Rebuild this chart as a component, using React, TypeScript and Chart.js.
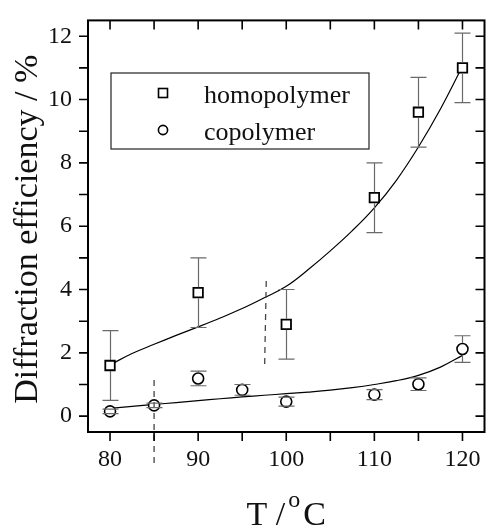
import React, { useEffect, useRef } from "react";
import { Chart, registerables } from "chart.js";

Chart.register(...registerables);

// ---- data ----
const homoT = [80, 90, 100, 110, 115, 120];
const homoEff = [1.6, 3.9, 2.9, 6.9, 9.6, 11.0];
const homoErr = [1.1, 1.1, 1.1, 1.1, 1.1, 1.1];

const copoT = [80, 85, 90, 95, 100, 110, 115, 120];
const copoEff = [0.15, 0.34, 1.19, 0.83, 0.46, 0.68, 1.01, 2.12];
const copoErr = [0.07, 0.07, 0.23, 0.17, 0.14, 0.16, 0.2, 0.42];

const fitT = [80, 82.5, 85, 87.5, 90, 92.5, 95, 97.5, 100, 102.5, 105, 107.5, 110, 112.5, 115, 117.5, 120];
const homoFit = [1.62, 1.98, 2.27, 2.55, 2.82, 3.1, 3.4, 3.74, 4.1, 4.63, 5.22, 5.86, 6.58, 7.45, 8.5, 9.7, 11.05];
const copoFit = [0.25, 0.31, 0.37, 0.43, 0.49, 0.55, 0.61, 0.66, 0.71, 0.76, 0.82, 0.9, 1.0, 1.12, 1.29, 1.55, 1.92];

const dash1X = [85, 85];
const dash1Y = [1.14, -1.49];
const dash2X = [97.73, 97.55];
const dash2Y = [4.27, 1.63];

const xTicks = [80, 85, 90, 95, 100, 105, 110, 115, 120];
const yTicks = [0, 1, 2, 3, 4, 5, 6, 7, 8, 9, 10, 11, 12];
const xTitle = ["T /", "o", "C"];
const yTitle = "Diffraction efficiency / %";
const legendLabels = ["homopolymer", "copolymer"];

const FONT = "'Liberation Serif', 'Times New Roman', serif";
const TEXT = "#111";

const pts = (xs: number[], ys: number[]) => xs.map((v, i) => ({ x: v, y: ys[i] }));

const framePlugin = {
  id: "frame",
  afterDatasetsDraw(chart: any) {
    const { ctx, scales } = chart;
    const x = scales.x, y = scales.y;
    ctx.save();
    ctx.strokeStyle = "#6a6a6a";
    ctx.lineWidth = 1.2;
    const draw = (xs: number[], ys: number[], es: number[], r: number) => {
      xs.forEach((xv, i) => {
        const px = Math.round(x.getPixelForValue(xv)) + 0.5;
        const pt = y.getPixelForValue(ys[i] + es[i]);
        const pb = y.getPixelForValue(ys[i] - es[i]);
        const pc = y.getPixelForValue(ys[i]);
        ctx.beginPath();
        if (pc - pt > r) { ctx.moveTo(px, pt); ctx.lineTo(px, pc - r); }
        if (pb - pc > r) { ctx.moveTo(px, pc + r); ctx.lineTo(px, pb); }
        ctx.moveTo(px - 8, pt); ctx.lineTo(px + 8, pt);
        ctx.moveTo(px - 8, pb); ctx.lineTo(px + 8, pb);
        ctx.stroke();
      });
    };
    draw(homoT, homoEff, homoErr, 5.5);
    draw(copoT, copoEff, copoErr, 6);
    ctx.restore();
  },
  afterDraw(chart: any) {
    const { ctx, chartArea, scales } = chart;
    const { left, right, top, bottom } = chartArea;
    const x = scales.x, y = scales.y;
    ctx.save();
    // frame
    ctx.strokeStyle = "#000";
    ctx.lineWidth = 2;
    ctx.strokeRect(left, top, right - left, bottom - top);
    // ticks
    ctx.lineWidth = 1.6;
    ctx.beginPath();
    xTicks.forEach((v) => {
      const px = x.getPixelForValue(v);
      ctx.moveTo(px, bottom); ctx.lineTo(px, bottom + 9);
      ctx.moveTo(px, top); ctx.lineTo(px, top + 9);
    });
    yTicks.forEach((v) => {
      const py = y.getPixelForValue(v);
      ctx.moveTo(left, py); ctx.lineTo(left - 9, py);
      ctx.moveTo(right, py); ctx.lineTo(right - 9, py);
    });
    ctx.stroke();

    // axis titles
    ctx.fillStyle = TEXT;
    ctx.font = `34px ${FONT}`;
    ctx.textBaseline = "alphabetic";
    const cx = (left + right) / 2;
    const w1 = ctx.measureText(xTitle[0]).width;
    ctx.font = `24px ${FONT}`;
    const w2 = ctx.measureText(xTitle[1]).width;
    ctx.font = `34px ${FONT}`;
    const w3 = ctx.measureText(xTitle[2]).width;
    const gap = 3;
    const total = w1 + gap + w2 + gap + w3;
    let sx = cx - total / 2;
    ctx.textAlign = "left";
    ctx.fillText(xTitle[0], sx, 525);
    sx += w1 + gap;
    ctx.font = `24px ${FONT}`;
    ctx.fillText(xTitle[1], sx, 507);
    sx += w2 + gap;
    ctx.font = `34px ${FONT}`;
    ctx.fillText(xTitle[2], sx, 525);

    ctx.save();
    ctx.translate(37, (top + bottom) / 2 + 3);
    ctx.rotate(-Math.PI / 2);
    ctx.textAlign = "center";
    ctx.fillText(yTitle, 0, 0);
    ctx.restore();

    // legend
    ctx.lineWidth = 1.2;
    ctx.strokeStyle = "#222";
    ctx.strokeRect(111, 73, 258, 76);
    ctx.lineWidth = 1.6;
    ctx.strokeStyle = "#000";
    ctx.fillStyle = "#fff";
    ctx.fillRect(158.5, 88.5, 9, 9);
    ctx.strokeRect(158.5, 88.5, 9, 9);
    ctx.beginPath();
    ctx.arc(163, 130, 4.6, 0, Math.PI * 2);
    ctx.fill();
    ctx.stroke();
    ctx.fillStyle = TEXT;
    ctx.font = `26px ${FONT}`;
    ctx.textAlign = "left";
    ctx.fillText(legendLabels[0], 204, 103);
    ctx.fillText(legendLabels[1], 204, 140);
    ctx.restore();
  },
};

export default function App() {
  const ref = useRef<HTMLCanvasElement | null>(null);
  useEffect(() => {
    if (!ref.current) return;
    const chart = new Chart(ref.current, {
      type: "scatter",
      data: {
        datasets: [
          {
            label: "dash1",
            data: pts(dash1X, dash1Y),
            showLine: true,
            borderColor: "#444",
            borderWidth: 1.3,
            borderDash: [6, 5],
            pointRadius: 0,
            clip: false,
          } as any,
          {
            label: "dash2",
            data: pts(dash2X, dash2Y),
            showLine: true,
            borderColor: "#444",
            borderWidth: 1.3,
            borderDash: [6, 5],
            pointRadius: 0,
          },
          {
            label: legendLabels[0],
            data: pts(homoT, homoEff),
            showLine: false,
            pointStyle: "rect",
            pointRadius: 6.7,
            pointBorderWidth: 1.8,
            pointBackgroundColor: "#fff",
            pointBorderColor: "#000",
          },
          {
            label: legendLabels[1],
            data: pts(copoT, copoEff),
            showLine: false,
            pointStyle: "circle",
            pointRadius: 5.5,
            pointBorderWidth: 1.6,
            pointBackgroundColor: "#fff",
            pointBorderColor: "#000",
          },
          {
            label: "homoFit",
            data: pts(fitT, homoFit),
            showLine: true,
            borderColor: "#000",
            borderWidth: 1.2,
            pointRadius: 0,
            tension: 0.4,
          } as any,
          {
            label: "copoFit",
            data: pts(fitT, copoFit),
            showLine: true,
            borderColor: "#000",
            borderWidth: 1.2,
            pointRadius: 0,
            tension: 0.4,
          } as any,
        ],
      },
      options: {
        animation: false,
        responsive: false,
        devicePixelRatio: 1,
        layout: { padding: { top: 13, right: 2, left: 0, bottom: 0 } },
        plugins: { legend: { display: false }, tooltip: { enabled: false } },
        scales: {
          x: {
            type: "linear",
            min: 77.5,
            max: 122.5,
            afterBuildTicks: (s: any) => { s.ticks = xTicks.map((v) => ({ value: v })); },
            afterFit: (s: any) => { s.height = 96; },
            grid: { drawOnChartArea: false, tickLength: 10, color: "rgba(0,0,0,0)", tickColor: "rgba(0,0,0,0)" },
            border: { display: false },
            ticks: {
              autoSkip: false,
              maxRotation: 0,
              padding: 3,
              color: TEXT,
              font: { family: FONT, size: 24 },
              callback: (v: any) => (Number(v) % 10 === 0 ? String(v) : ""),
            },
          },
          y: {
            type: "linear",
            min: -0.5,
            max: 12.5,
            afterBuildTicks: (s: any) => { s.ticks = yTicks.map((v) => ({ value: v })); },
            afterFit: (s: any) => { s.width = 88; },
            grid: { drawOnChartArea: false, tickLength: 10, color: "rgba(0,0,0,0)", tickColor: "rgba(0,0,0,0)" },
            border: { display: false },
            ticks: {
              autoSkip: false,
              padding: 6,
              color: TEXT,
              font: { family: FONT, size: 24 },
              callback: (v: any) => (Number(v) % 2 === 0 ? String(v) : ""),
            },
          },
        },
      },
      plugins: [framePlugin],
    } as any);
    return () => chart.destroy();
  }, []);
  return (
    <div style={{ position: "fixed", left: 0, top: 0, width: 493, height: 528, background: "#fff" }}>
      <canvas ref={ref} width={493} height={528} style={{ width: 493, height: 528, display: "block" }} />
    </div>
  );
}
